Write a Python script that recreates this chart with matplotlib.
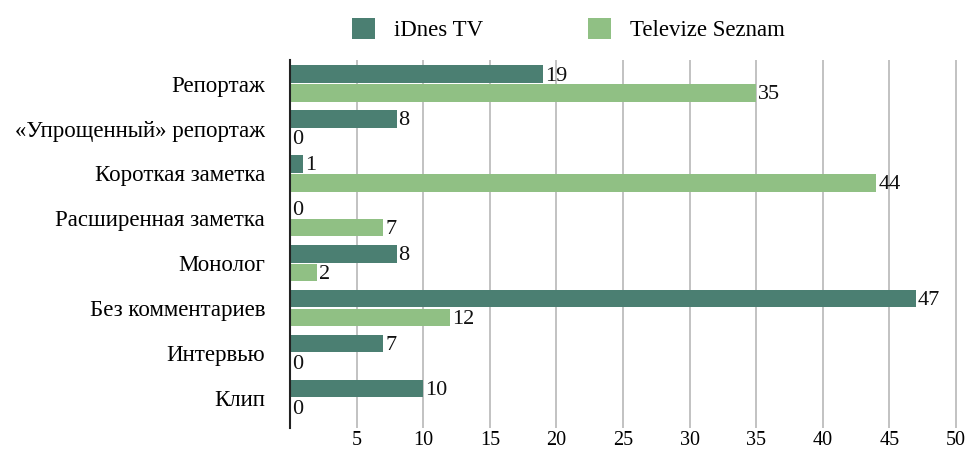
import numpy as np
import matplotlib
matplotlib.use('Agg')
import matplotlib.pyplot as plt

plt.rcParams['font.family'] = ['Liberation Serif', 'DejaVu Serif']

categories = ['Репортаж', '«Упрощенный» репортаж', 'Короткая заметка',
              'Расширенная заметка', 'Монолог', 'Без комментариев',
              'Интервью', 'Клип']
idnes = [19, 8, 1, 0, 8, 47, 7, 10]
seznam = [35, 0, 44, 7, 2, 12, 0, 0]
series_names = ['iDnes TV', 'Televize Seznam']
xticks = [5, 10, 15, 20, 25, 30, 35, 40, 45, 50]

c_dark = '#4b7f72'
c_light = '#90c084'

fig = plt.figure(figsize=(9.7, 4.5), dpi=100)
ax = fig.add_axes([0.299, 0.049, 0.688, 0.818])

y = np.arange(len(categories))
h = 0.39
b1 = ax.barh(y - 0.21, idnes, height=h, color=c_dark, label=series_names[0], zorder=3)
b2 = ax.barh(y + 0.21, seznam, height=h, color=c_light, label=series_names[1], zorder=3)

for bars, vals in ((b1, idnes), (b2, seznam)):
    for bar, v in zip(bars, vals):
        ax.text(v + 0.15, bar.get_y() + bar.get_height() / 2 + 0.04, str(v),
                va='center', ha='left', fontsize=16, color='#111111', zorder=4)

ax.set_xlim(0, 50.1)
ax.set_ylim(7.67, -0.53)
ax.set_yticks(y)
ax.set_yticklabels(categories, fontsize=16.5)
ax.set_xticks(xticks)
ax.set_xticklabels([str(t) for t in xticks], fontsize=14.5)
ax.tick_params(axis='x', length=0, pad=2)
ax.tick_params(axis='y', length=0, pad=18)
ax.grid(axis='x', color='#bdbdbd', linewidth=1.3, zorder=0)
for s in ['top', 'right', 'bottom']:
    ax.spines[s].set_visible(False)
ax.spines['left'].set_color('#222222')
ax.spines['left'].set_linewidth(1.5)
ax.spines['left'].set_zorder(5)

fig.legend(handles=[b1, b2], loc='upper center', bbox_to_anchor=(0.586, 1.005),
           ncol=2, frameon=False, fontsize=16.5, handlelength=1.0, handleheight=1.0,
           columnspacing=4.6, handletextpad=0.8)

fig.savefig('out.png', dpi=100, facecolor='white')
